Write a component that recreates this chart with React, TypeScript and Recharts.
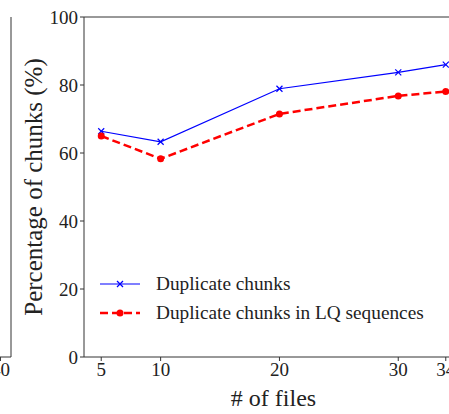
import React from "react";
import {
  LineChart,
  Line,
  XAxis,
  YAxis,
  Legend,
  ReferenceLine,
} from "recharts";

const files = [5, 10, 20, 30, 34];
const dupChunks = [66.4, 63.3, 78.9, 83.7, 86.0];
const dupChunksLQ = [65.0, 58.3, 71.5, 76.8, 78.1];
const xTicks = [5, 10, 20, 30, 34];
const yTicks = [0, 20, 40, 60, 80, 100];

const seriesNames = ["Duplicate chunks", "Duplicate chunks in LQ sequences"];

// neighbouring subplot, only its right edge is visible
const sideX = [0, 40];
const sideTicks = [38];

const data = files.map((f, i) => ({
  files: f,
  dup: dupChunks[i],
  dupLQ: dupChunksLQ[i],
}));
const sideData = sideX.map((x) => ({ x }));

const FONT = "'Liberation Serif', 'Times New Roman', serif";
const AXIS = "#333";

const Cross = (props: any) => {
  const { cx, cy } = props;
  if (cx == null || cy == null) return null;
  const s = 3;
  return (
    <g stroke="#0000ff" strokeWidth={1.2}>
      <line x1={cx - s} y1={cy - s} x2={cx + s} y2={cy + s} />
      <line x1={cx - s} y1={cy + s} x2={cx + s} y2={cy - s} />
    </g>
  );
};

const LegendBox = () => (
  <div style={{ fontFamily: FONT, fontSize: 19.3, color: "#222" }}>
    {seriesNames.map((name, i) => (
      <div
        key={name}
        style={{ display: "flex", alignItems: "center", height: 29 }}
      >
        <svg width={56} height={14}>
          {i === 0 ? (
            <>
              <line x1={0} y1={7} x2={40} y2={7} stroke="#0000ff" strokeWidth={1.2} />
              <Cross cx={20} cy={7} />
            </>
          ) : (
            <>
              <line
                x1={0}
                y1={7}
                x2={40}
                y2={7}
                stroke="#ff0000"
                strokeWidth={2.5}
                strokeDasharray="8 4"
              />
              <circle cx={20} cy={7} r={3.5} fill="#ff0000" />
            </>
          )}
        </svg>
        <span>{name}</span>
      </div>
    ))}
  </div>
);

export default function App() {
  return (
    <div
      style={{
        position: "fixed",
        left: 0,
        top: 0,
        width: 449,
        height: 414,
        overflow: "hidden",
        background: "#fff",
      }}
    >
      <div style={{ position: "absolute", left: -200, top: 0 }}>
        <LineChart
          width={220}
          height={414}
          data={sideData}
          margin={{ top: 17, right: 8, left: 0, bottom: 0 }}
        >
          <XAxis
            type="number"
            dataKey="x"
            domain={[0, 40]}
            ticks={sideTicks}
            tickFormatter={() => "40"}
            height={57}
            stroke={AXIS}
            tickSize={4}
            tick={{ fill: "#222", fontSize: 19, fontFamily: FONT }}
          />
          <YAxis
            type="number"
            orientation="right"
            domain={[0, 100]}
            width={1}
            tick={false}
            tickLine={false}
            stroke={AXIS}
          />
          <ReferenceLine y={100} stroke={AXIS} />
        </LineChart>
      </div>

      <div style={{ position: "absolute", left: 0, top: 0 }}>
        <LineChart
          width={470}
          height={414}
          data={data}
          margin={{ top: 17, right: 7, left: 0, bottom: 0 }}
        >
          <XAxis
            type="number"
            dataKey="files"
            domain={[3.55, 35.45]}
            ticks={xTicks}
            height={57}
            stroke={AXIS}
            tickSize={4}
            tick={{ fill: "#222", fontSize: 19, fontFamily: FONT }}
            label={{
              value: "# of files",
              position: "insideBottom",
              offset: 8,
              style: { fill: "#222", fontSize: 24, fontFamily: FONT },
            }}
          />
          <YAxis
            type="number"
            domain={[0, 100]}
            ticks={yTicks}
            width={84}
            stroke={AXIS}
            tickSize={4}
            tick={{ fill: "#222", fontSize: 19, fontFamily: FONT }}
            label={{
              value: "Percentage of chunks (%)",
              angle: -90,
              position: "insideLeft",
              offset: 33,
              style: {
                fill: "#222",
                fontSize: 25,
                fontFamily: FONT,
                textAnchor: "middle",
              },
            }}
          />
          <ReferenceLine y={100} stroke={AXIS} />
          <Legend
            layout="vertical"
            align="center"
            verticalAlign="middle"
            wrapperStyle={{ left: 100, top: 269, width: 345 }}
            content={() => <LegendBox />}
          />
          <Line
            dataKey="dup"
            name={seriesNames[0]}
            stroke="#0000ff"
            strokeWidth={1.2}
            dot={<Cross />}
            activeDot={false}
            isAnimationActive={false}
          />
          <Line
            dataKey="dupLQ"
            name={seriesNames[1]}
            stroke="#ff0000"
            strokeWidth={2.5}
            strokeDasharray="8 4"
            dot={{ r: 3.5, fill: "#ff0000", stroke: "#ff0000", strokeWidth: 0 }}
            activeDot={false}
            isAnimationActive={false}
          />
        </LineChart>
      </div>
    </div>
  );
}
